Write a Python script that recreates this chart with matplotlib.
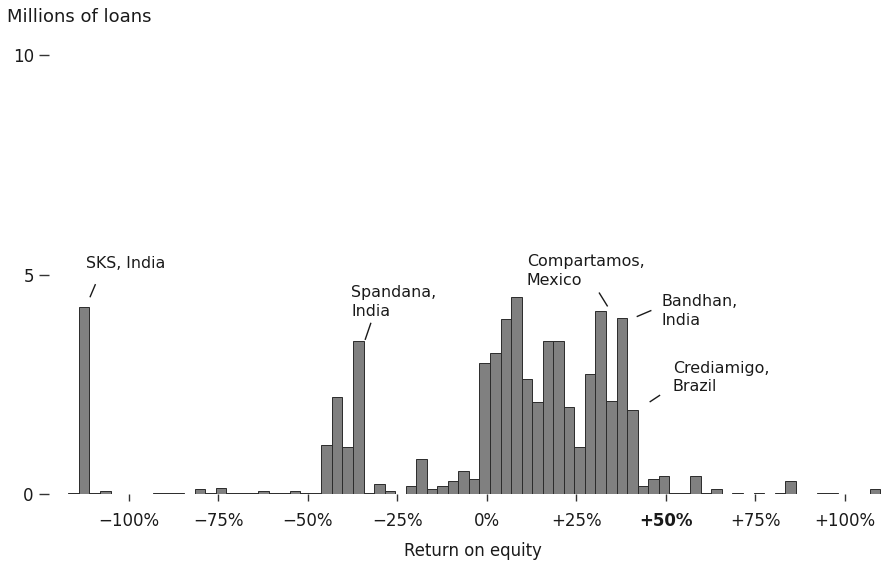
import numpy as np
import matplotlib
matplotlib.use("Agg")
import matplotlib.pyplot as plt

# return on equity histogram, bins of ~3 points, heights in millions of loans
bin_start = -116.9
bin_width = 2.944
loans = [0.03, 4.27, 0.03, 0.08, 0, 0, 0, 0, 0.03, 0.03,
         0.03, 0, 0.11, 0.03, 0.15, 0.03, 0.03, 0.03, 0.08, 0.03,
         0.03, 0.08, 0.03, 0.03, 1.12, 2.21, 1.08, 3.49, 0.04, 0.23,
         0.08, 0.01, 0.19, 0.81, 0.12, 0.19, 0.30, 0.54, 0.35, 2.98,
         3.22, 3.99, 4.49, 2.63, 2.09, 3.49, 3.49, 1.98, 1.08, 2.75,
         4.18, 2.13, 4.02, 1.93, 0.19, 0.35, 0.42, 0.03, 0.03, 0.42,
         0.03, 0.12, 0, 0.03, 0, 0.03, 0, 0.03, 0.30, 0,
         0, 0.03, 0.03, 0, 0, 0, 0.11]

x_ticks = [-100, -75, -50, -25, 0, 25, 50, 75, 100]
x_labels = ['\u2212100%', '\u221275%', '\u221250%', '\u221225%', '0%',
            '+25%', '+50%', '+75%', '+100%']
y_ticks = [0, 5, 10]

# labelled institutions: text, text position, leader line
notes = [
    ("SKS, India", (-112.0, 5.42), ((-110.8, 4.50), (-109.4, 4.77))),
    ("Spandana,\nIndia", (-37.96, 4.76), ((-33.97, 3.53), (-32.46, 3.89))),
    ("Compartamos,\nMexico", (11.1, 5.47), ((31.4, 4.58), (33.6, 4.29))),
    ("Bandhan,\nIndia", (48.8, 4.56), ((42.0, 4.05), (45.75, 4.18))),
    ("Crediamigo,\nBrazil", (51.9, 3.04), ((45.6, 2.11), (48.2, 2.25))),
]

ink = '#1a1a1a'

fig = plt.figure(figsize=(8.85, 5.63), dpi=100)
ax = fig.add_axes([0.0554, 0.122, 0.9423, 0.7803])

lefts = bin_start + bin_width * np.arange(len(loans))
keep = [i for i, v in enumerate(loans) if v > 0]
ax.bar(lefts[keep], [loans[i] for i in keep], width=bin_width, align='edge',
       color='#808080', edgecolor='#2b2b2b', linewidth=0.7)

ax.set_xlim(-122.3, 110.6)
ax.set_ylim(0, 10)
for s in ax.spines.values():
    s.set_visible(False)

ax.set_xticks(x_ticks)
ax.set_xticklabels(x_labels, fontsize=12, color=ink)
ax.get_xticklabels()[6].set_fontweight('bold')
ax.set_yticks(y_ticks)
ax.set_yticklabels([str(v) for v in y_ticks], fontsize=12, color=ink)
ax.tick_params(axis='x', direction='out', length=5, width=1, color='#333333', pad=8)
ax.tick_params(axis='y', direction='out', length=7, width=1, color='#333333', pad=4)

for label, (tx, ty), (p0, p1) in notes:
    ax.text(tx, ty, label, fontsize=11.4, color=ink, ha='left', va='top',
            linespacing=1.3, clip_on=False)
    ax.plot([p0[0], p1[0]], [p0[1], p1[1]], color=ink, linewidth=1, clip_on=False)

fig.text(7 / 885, 1 - 21.7 / 563, "Millions of loans", fontsize=13, color=ink,
         ha='left', va='baseline')
fig.text(472.7 / 885, 1 - 551 / 563, "Return on equity", fontsize=11.9, color=ink,
         ha='center', va='center')

fig.savefig("out.png", dpi=100)
